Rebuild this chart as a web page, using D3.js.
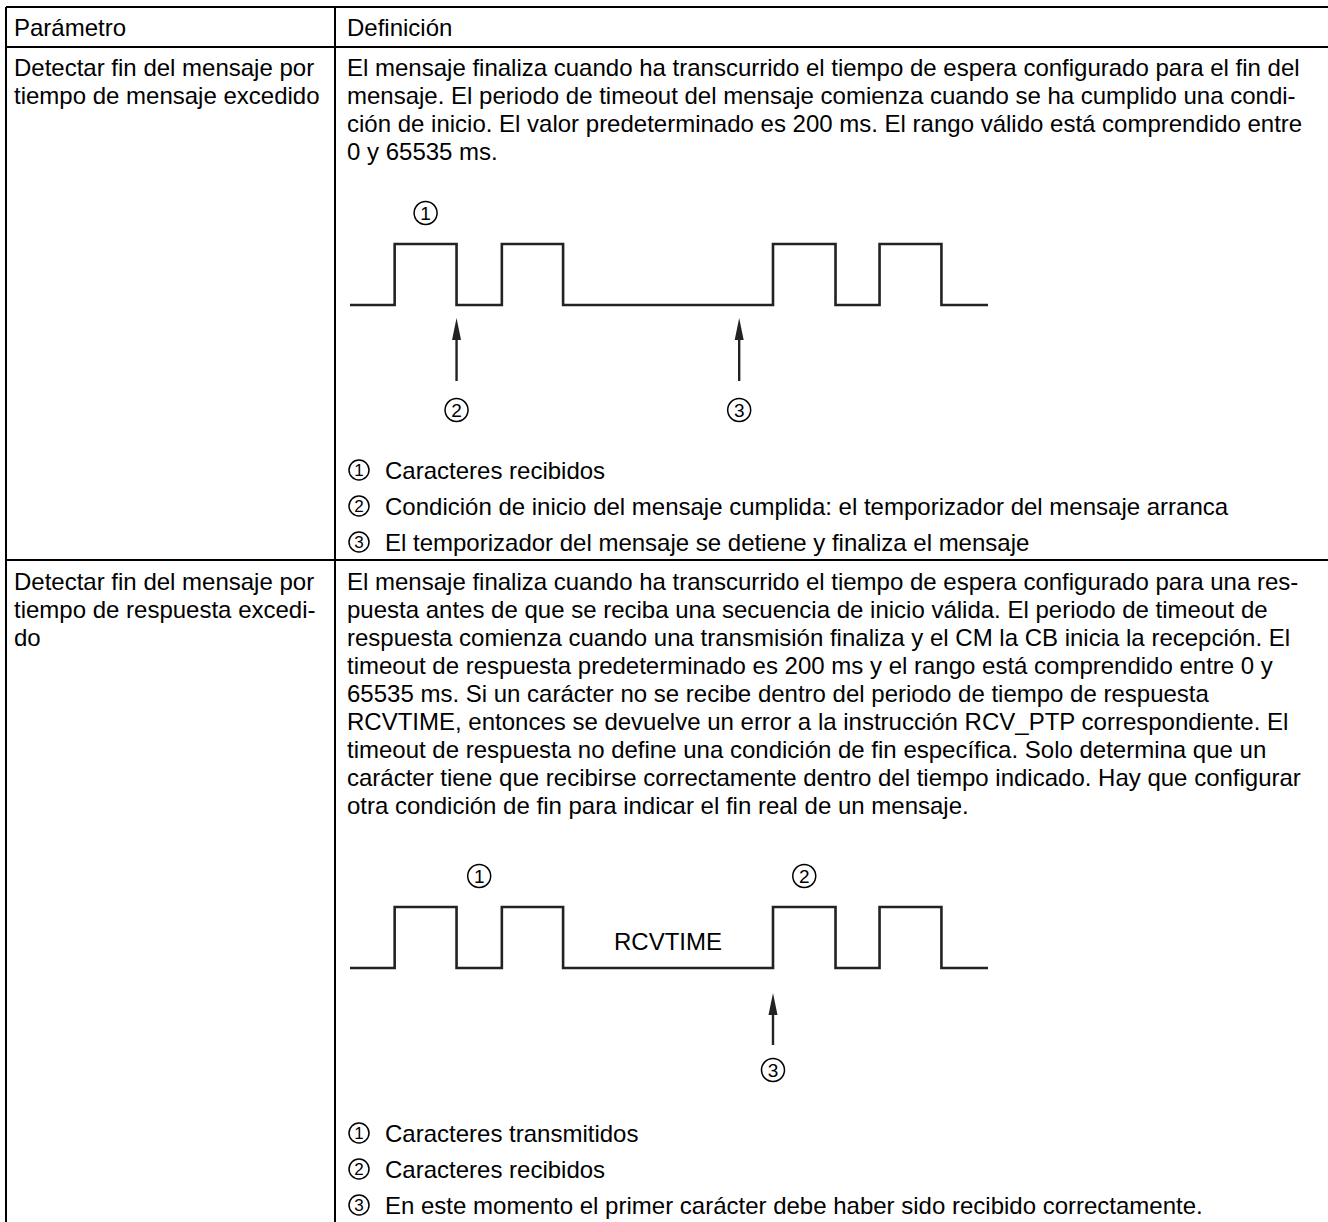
<!DOCTYPE html>
<html><head><meta charset="utf-8">
<script src="https://cdn.jsdelivr.net/npm/d3@7"></script>
<style>
html,body{margin:0;padding:0;background:#fff;}
svg{display:block;}
text{font-family:"Liberation Sans",Arial,sans-serif;fill:#000;}
</style></head>
<body><svg id="c" width="1328" height="1222"></svg>
<script>
// ---------- data ----------
const headers = ["Parámetro", "Definición"];
const row1Param = ["Detectar fin del mensaje por", "tiempo de mensaje excedido"];
const row1Def = [
  "El mensaje finaliza cuando ha transcurrido el tiempo de espera configurado para el fin del",
  "mensaje. El periodo de timeout del mensaje comienza cuando se ha cumplido una condi-",
  "ción de inicio. El valor predeterminado es 200 ms. El rango válido está comprendido entre",
  "0 y 65535 ms."
];
const row1Legend = [
  "Caracteres recibidos",
  "Condición de inicio del mensaje cumplida: el temporizador del mensaje arranca",
  "El temporizador del mensaje se detiene y finaliza el mensaje"
];
const row2Param = ["Detectar fin del mensaje por", "tiempo de respuesta excedi-", "do"];
const row2Def = [
  "El mensaje finaliza cuando ha transcurrido el tiempo de espera configurado para una res-",
  "puesta antes de que se reciba una secuencia de inicio válida. El periodo de timeout de",
  "respuesta comienza cuando una transmisión finaliza y el CM la CB inicia la recepción. El",
  "timeout de respuesta predeterminado es 200 ms y el rango está comprendido entre 0 y",
  "65535 ms. Si un carácter no se recibe dentro del periodo de tiempo de respuesta",
  "RCVTIME, entonces se devuelve un error a la instrucción RCV_PTP correspondiente. El",
  "timeout de respuesta no define una condición de fin específica. Solo determina que un",
  "carácter tiene que recibirse correctamente dentro del tiempo indicado. Hay que configurar",
  "otra condición de fin para indicar el fin real de un mensaje."
];
const row2Legend = [
  "Caracteres transmitidos",
  "Caracteres recibidos",
  "En este momento el primer carácter debe haber sido recibido correctamente."
];
// signal: times of level transitions (time units 0..100), starting low
const signalEdges = [0, 7, 16.7, 23.8, 33.4, 66.3, 76.1, 83, 92.7, 100];
// diagram 1 markers
const d1Arrows = [16.7, 61.0];
const d1TopLabels = [{n: "1", t: 11.85}];
const d1BottomLabels = [{n: "2", t: 16.7}, {n: "3", t: 61.0}];
// diagram 2 markers
const d2Arrows = [66.3];
const d2TopLabels = [{n: "1", t: 20.25}, {n: "2", t: 71.2}];
const d2BottomLabels = [{n: "3", t: 66.3}];
const d2Span = {text: "RCVTIME", t: 49.85};

// ---------- drawing ----------
const svg = d3.select("#c");
const FS = 24;
const ink = "#000", sig = "#222";

// table rules
const colX = [6, 335], right = 1330;
const rowY = [7, 47, 560];
const g = svg.append("g");
rowY.forEach(y => g.append("line").attr("x1", colX[0]).attr("x2", right).attr("y1", y).attr("y2", y)
  .attr("stroke", ink).attr("stroke-width", 2));
colX.forEach(x => g.append("line").attr("x1", x).attr("x2", x).attr("y1", rowY[0]).attr("y2", 1222)
  .attr("stroke", ink).attr("stroke-width", 2));

function lines(arr, x, y0, dy) {
  svg.append("g").selectAll("text").data(arr).join("text")
    .attr("x", x).attr("y", (d, i) => y0 + i * dy)
    .attr("font-size", FS).text(d => d);
}
// header
svg.append("g").selectAll("text").data(headers).join("text")
  .attr("x", (d, i) => colX[i] + (i ? 12 : 8)).attr("y", 36).attr("font-size", FS).text(d => d);

const LH = 28;
lines(row1Param, colX[0] + 8, rowY[1] + 29, LH);
lines(row1Def, colX[1] + 12, rowY[1] + 29, LH);
lines(row2Param, colX[0] + 8, rowY[2] + 30, LH);
lines(row2Def, colX[1] + 12, rowY[2] + 30, LH);

function circled(parent, cx, cy, n, r, fs) {
  parent.append("circle").attr("cx", cx).attr("cy", cy).attr("r", r)
    .attr("fill", "none").attr("stroke", ink).attr("stroke-width", 1.5);
  parent.append("text").attr("x", cx).attr("y", cy + fs * 0.36).attr("text-anchor", "middle")
    .attr("font-size", fs).text(n);
}
function legend(arr, y0, dy) {
  const lg = svg.append("g");
  arr.forEach((d, i) => {
    const y = y0 + i * dy;
    circled(lg, 359, y, String(i + 1), 10, 17);
    lg.append("text").attr("x", 385).attr("y", y + 8.5).attr("font-size", FS).text(d);
  });
}
legend(row1Legend, 470, 36);
legend(row2Legend, 1133, 36);

const x = d3.scaleLinear().domain([0, 100]).range([350, 988]);

function signal(yHigh, yLow) {
  const y = d3.scaleLinear().domain([0, 1]).range([yLow, yHigh]);
  const pts = [[signalEdges[0], 0]];
  for (let i = 1; i < signalEdges.length; i++) {
    const before = (i - 1) % 2 === 0 ? 0 : 1; // level during segment i-1..i
    pts.push([signalEdges[i], before]);
    if (i < signalEdges.length - 1) pts.push([signalEdges[i], 1 - before]);
  }
  svg.append("path").datum(pts)
    .attr("d", d3.line().x(d => x(d[0])).y(d => y(d[1])))
    .attr("fill", "none").attr("stroke", sig).attr("stroke-width", 2.6)
    .attr("stroke-linejoin", "miter");
  return y;
}
function arrow(t, yTip, yEnd) {
  const cx = x(t);
  svg.append("line").attr("x1", cx).attr("x2", cx).attr("y1", yTip + 14).attr("y2", yEnd)
    .attr("stroke", sig).attr("stroke-width", 2.4);
  svg.append("path").attr("d", `M${cx},${yTip} L${cx - 4.5},${yTip + 22} L${cx + 4.5},${yTip + 22} Z`)
    .attr("fill", sig);
}

// diagram 1
signal(244, 305);
d1Arrows.forEach(t => arrow(t, 318, 381));
const dg1 = svg.append("g");
d1TopLabels.forEach(d => circled(dg1, x(d.t), 213, d.n, 11.5, 19));
d1BottomLabels.forEach(d => circled(dg1, x(d.t), 410, d.n, 11.5, 19));

// diagram 2
signal(907, 968);
d2Arrows.forEach(t => arrow(t, 993, 1045));
const dg2 = svg.append("g");
d2TopLabels.forEach(d => circled(dg2, x(d.t), 876, d.n, 11.5, 19));
d2BottomLabels.forEach(d => circled(dg2, x(d.t), 1070, d.n, 11.5, 19));
svg.append("text").attr("x", x(d2Span.t)).attr("y", 950).attr("text-anchor", "middle")
  .attr("font-size", FS).text(d2Span.text);
</script></body></html>
